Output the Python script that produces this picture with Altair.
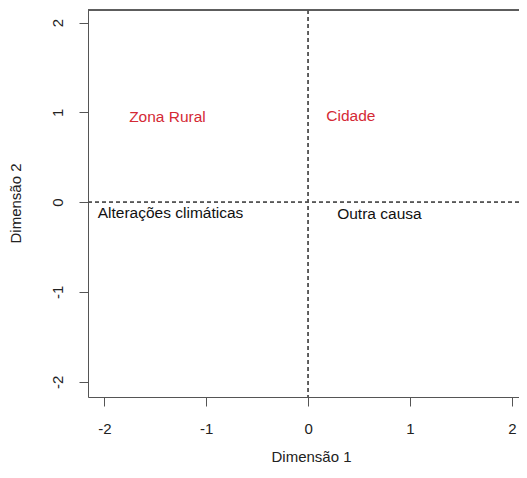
import altair as alt
import pandas as pd

labels = ["Zona Rural", "Cidade", "Alterações climáticas", "Outra causa"]
dim1 = [-1.38, 0.42, -1.35, 0.70]
dim2 = [0.95, 0.96, -0.12, -0.13]
groups = ["row", "row", "col", "col"]

x_ticks = [-2, -1, 0, 1, 2]
y_ticks = [-2, -1, 0, 1, 2]

df = pd.DataFrame({"label": labels, "d1": dim1, "d2": dim2, "g": groups})

W, H = 431, 387
xdom = [-2.16, 2.07]
ydom = [-2.17, 2.14]
FONT = "Liberation Sans"
AX = "#555555"

xs = alt.Scale(domain=xdom, nice=False, zero=False)
ys = alt.Scale(domain=ydom, nice=False, zero=False)

base = alt.Chart(df)

text = base.mark_text(font=FONT, fontSize=15.5, align="center", baseline="middle").encode(
    x=alt.X("d1:Q", scale=xs, title="Dimensão 1",
            axis=alt.Axis(values=x_ticks, grid=False, labelExpr="toString(datum.value)",
                          labelFont=FONT, labelFontSize=15,
                          labelColor="#222", tickColor=AX, domainColor=AX, tickSize=9,
                          labelPadding=15, titleFont=FONT, titleFontSize=15, titleFontWeight="normal",
                          titleColor="#222", titleBaseline="middle", titleY=59, titleX=223)),
    y=alt.Y("d2:Q", scale=ys, title="Dimensão 2",
            axis=alt.Axis(values=y_ticks, grid=False, labelExpr="toString(datum.value)",
                          labelFont=FONT, labelFontSize=15,
                          labelColor="#222", tickColor=AX, domainColor=AX, tickSize=9,
                          labelAngle=270, labelAlign="center", labelBaseline="bottom",
                          labelPadding=14, titleFont=FONT, titleFontSize=15, titleFontWeight="normal",
                          titleColor="#222", titleAngle=270, titleBaseline="middle",
                          titleAlign="center", titleX=-73, titleY=193)),
    text="label:N",
    color=alt.Color("g:N", scale=alt.Scale(domain=["row", "col"], range=["#d42a35", "#111111"]), legend=None),
)

hline = alt.Chart(df).mark_rule(color="#555", strokeDash=[4, 3], strokeWidth=1).encode(y=alt.datum(0))
vline = alt.Chart(df).mark_rule(color="#555", strokeDash=[4, 3], strokeWidth=1).encode(x=alt.datum(0))
top = alt.Chart(df).mark_rule(color=AX, strokeWidth=1).encode(
    x=alt.value(0), x2=alt.value(W), y=alt.value(0))

chart = alt.layer(hline, vline, text, top).properties(
    width=W, height=H,
    autosize=alt.AutoSizeParams(type="none"),
    padding={"left": 80, "top": 2, "right": 0, "bottom": 80},
).configure_view(stroke=None).configure(background="white")

chart.save("out.html", embed_options={"renderer": "svg", "actions": False})
